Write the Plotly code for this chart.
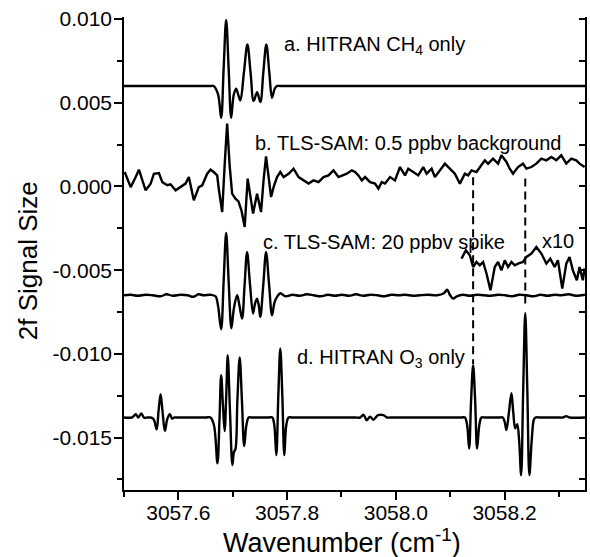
import plotly.graph_objects as go

# --- a. HITRAN CH4 only ---
a_wn = [3057.500, 3057.600, 3057.650, 3057.6600, 3057.6646, 3057.6728, 3057.6787, 3057.6833,
        3057.6879, 3057.6925, 3057.6971, 3057.7017, 3057.7062, 3057.7105, 3057.7141, 3057.7206,
        3057.7270, 3057.7328, 3057.7385, 3057.7448, 3057.7508, 3057.7563, 3057.7618, 3057.7673,
        3057.7723, 3057.7774, 3057.7820, 3057.7870, 3057.7950, 3057.850, 3058.000, 3058.200,
        3058.348]
a_sig = [0.0060, 0.0060, 0.0060, 0.0060, 0.0060, 0.00553, 0.00410, 0.00705,
         0.00995, 0.00705, 0.00410, 0.00544, 0.00584, 0.00544, 0.00514, 0.00681,
         0.00848, 0.00681, 0.00510, 0.00563, 0.00504, 0.00681, 0.00848, 0.00681,
         0.00530, 0.00585, 0.0060, 0.0060, 0.0060, 0.0060, 0.0060, 0.0060,
         0.0060]

# --- b. TLS-SAM: 0.5 ppbv background ---
b_wn = [3057.5013, 3057.5123, 3057.5215, 3057.5275, 3057.5338, 3057.5398, 3057.5490, 3057.5550,
        3057.5642, 3057.5705, 3057.5796, 3057.5857, 3057.5949, 3057.6040, 3057.6132, 3057.6193,
        3057.6284, 3057.6376, 3057.6439, 3057.6530, 3057.6591, 3057.6651, 3057.6714, 3057.6747,
        3057.6806, 3057.6851, 3057.6897, 3057.6943, 3057.6989, 3057.7050, 3057.7105, 3057.7160,
        3057.7220, 3057.7275, 3057.7325, 3057.7374, 3057.7448, 3057.7521, 3057.7567, 3057.7613,
        3057.7659, 3057.7705, 3057.7756, 3057.7815, 3057.7875, 3057.7936, 3057.8028, 3057.8119,
        3057.8211, 3057.8303, 3057.8394, 3057.8486, 3057.8578, 3057.8670, 3057.8761, 3057.8853,
        3057.8945, 3057.9099, 3057.9191, 3057.9251, 3057.9312, 3057.9374, 3057.9435, 3057.9527,
        3057.9618, 3057.9679, 3057.9741, 3057.9802, 3057.9894, 3057.9985, 3058.0077, 3058.0169,
        3058.0229, 3058.0321, 3058.0413, 3058.0505, 3058.0567, 3058.0659, 3058.0719, 3058.0811,
        3058.0903, 3058.0994, 3058.1086, 3058.1178, 3058.1270, 3058.1330, 3058.1393, 3058.1484,
        3058.1545, 3058.1637, 3058.1697, 3058.1789, 3058.1881, 3058.1943, 3058.2035, 3058.2095,
        3058.2156, 3058.2248, 3058.2339, 3058.2402, 3058.2494, 3058.2585, 3058.2677, 3058.2769,
        3058.2861, 3058.2952, 3058.3044, 3058.3136, 3058.3228, 3058.3319, 3058.3380, 3058.3472]
b_sig = [0.00086, -0.00004, 0.00056, 0.00100, 0.00036, -0.00023, 0.00017, 0.00076,
         0.00080, 0.00026, 0.00007, 0.00013, -0.00023, -0.00004, 0.00017, 0.00056,
         -0.00083, -0.00004, 0.00007, 0.00076, 0.00100, 0.00086, 0.00066, -0.00023,
         -0.00153, 0.00126, 0.00375, 0.00126, -0.00043, -0.00073, -0.00089, -0.00143,
         -0.00242, 0.00047, -0.00053, -0.00162, -0.00043, -0.00153, 0.00036, 0.00180,
         0.00060, -0.00063, 0.00000, 0.00056, 0.00086, 0.00056, 0.00076, 0.00106,
         0.00056, 0.00036, 0.00017, 0.00036, 0.00026, 0.00056, 0.00066, 0.00096,
         0.00056, 0.00076, 0.00096, 0.00086, 0.00066, 0.00036, 0.00056, 0.00026,
         0.00017, -0.00013, 0.00026, 0.00017, 0.00056, 0.00036, 0.00116, 0.00066,
         0.00106, 0.00086, 0.00066, 0.00116, 0.00076, 0.00106, 0.00056, 0.00096,
         0.00136, 0.00106, 0.00076, 0.00017, 0.00076, 0.00066, 0.00096, 0.00086,
         0.00116, 0.00156, 0.00136, 0.00166, 0.00136, 0.00186, 0.00146, 0.00106,
         0.00076, 0.00116, 0.00136, 0.00106, 0.00116, 0.00136, 0.00166, 0.00156,
         0.00176, 0.00156, 0.00186, 0.00136, 0.00166, 0.00156, 0.00136, 0.00116]

# --- c. TLS-SAM: 20 ppbv spike ---
c_wn = [3057.5000, 3057.5123, 3057.5251, 3057.5398, 3057.5527, 3057.5673, 3057.5783, 3057.5894,
        3057.6040, 3057.6169, 3057.6279, 3057.6371, 3057.6462, 3057.6591, 3057.6683, 3057.6728,
        3057.6787, 3057.6833, 3057.6879, 3057.6925, 3057.6976, 3057.7022, 3057.7081, 3057.7123,
        3057.7172, 3057.7218, 3057.7264, 3057.7319, 3057.7374, 3057.7411, 3057.7448, 3057.7481,
        3057.7508, 3057.7563, 3057.7613, 3057.7668, 3057.7723, 3057.7769, 3057.7815, 3057.7875,
        3057.7967, 3057.8100, 3057.8230, 3057.8360, 3057.8490, 3057.8620, 3057.8750, 3057.8880,
        3057.9010, 3057.9140, 3057.9270, 3057.9400, 3057.9530, 3057.9660, 3057.9790, 3057.9920,
        3058.0050, 3058.0180, 3058.0310, 3058.0440, 3058.0580, 3058.0760, 3058.0884, 3058.0945,
        3058.0994, 3058.1055, 3058.1123, 3058.1230, 3058.1360, 3058.1490, 3058.1620, 3058.1750,
        3058.1880, 3058.2010, 3058.2140, 3058.2270, 3058.2400, 3058.2530, 3058.2660, 3058.2790,
        3058.2920, 3058.3050, 3058.3180, 3058.3310, 3058.3480]
c_sig = [-0.00650, -0.00647, -0.00653, -0.00647, -0.00650, -0.00656, -0.00644, -0.00653,
         -0.00647, -0.00650, -0.00659, -0.00644, -0.00650, -0.00647, -0.00656, -0.00710,
         -0.00853, -0.00566, -0.00278, -0.00566, -0.00847, -0.00727, -0.00650, -0.00710,
         -0.00789, -0.00590, -0.00392, -0.00590, -0.00759, -0.00698, -0.00670, -0.00716,
         -0.00779, -0.00584, -0.00392, -0.00584, -0.00769, -0.00692, -0.00660, -0.00638,
         -0.00656, -0.00647, -0.00653, -0.00644, -0.00650, -0.00656, -0.00647, -0.00653,
         -0.00647, -0.00653, -0.00644, -0.00653, -0.00647, -0.00650, -0.00656, -0.00647,
         -0.00650, -0.00647, -0.00653, -0.00650, -0.00647, -0.00650, -0.00638, -0.00617,
         -0.00647, -0.00670, -0.00656, -0.00647, -0.00653, -0.00647, -0.00650, -0.00653,
         -0.00647, -0.00650, -0.00656, -0.00647, -0.00650, -0.00656, -0.00647, -0.00653,
         -0.00647, -0.00650, -0.00644, -0.00653, -0.00647]

# --- c. x10 expanded section ---
x10_wn = [3058.1209, 3058.1288, 3058.1361, 3058.1422, 3058.1484, 3058.1545, 3058.1606, 3058.1668,
          3058.1741, 3058.1820, 3058.1881, 3058.1943, 3058.2004, 3058.2064, 3058.2127, 3058.2187,
          3058.2248, 3058.2339, 3058.2402, 3058.2494, 3058.2585, 3058.2677, 3058.2769, 3058.2842,
          3058.2921, 3058.2982, 3058.3062, 3058.3136, 3058.3196, 3058.3257, 3058.3330, 3058.3380,
          3058.3440, 3058.3472]
x10_sig = [-0.00431, -0.00381, -0.00411, -0.00481, -0.00451, -0.00471, -0.00451, -0.00520,
           -0.00620, -0.00481, -0.00451, -0.00501, -0.00441, -0.00481, -0.00451, -0.00471,
           -0.00461, -0.00451, -0.00421, -0.00401, -0.00362, -0.00401, -0.00461, -0.00431,
           -0.00481, -0.00441, -0.00610, -0.00461, -0.00421, -0.00501, -0.00560, -0.00481,
           -0.00560, -0.00489]

# --- d. HITRAN O3 only ---
d_wn = [3057.5000, 3057.5141, 3057.5178, 3057.5215, 3057.5261, 3057.5319, 3057.5371, 3057.5435,
        3057.5490, 3057.5545, 3057.5600, 3057.5637, 3057.5673, 3057.5710, 3057.5752, 3057.5798,
        3057.5844, 3057.5884, 3057.5930, 3057.6000, 3057.6500, 3057.6591, 3057.6655, 3057.6719,
        3057.6756, 3057.6787, 3057.6820, 3057.6851, 3057.6881, 3057.6908, 3057.6949, 3057.6994,
        3057.7022, 3057.7050, 3057.7086, 3057.7128, 3057.7169, 3057.7211, 3057.7251, 3057.7294,
        3057.7350, 3057.7650, 3057.7728, 3057.7765, 3057.7802, 3057.7839, 3057.7875, 3057.7912,
        3057.7949, 3057.7985, 3057.8028, 3057.8100, 3057.9250, 3057.9343, 3057.9404, 3057.9466,
        3057.9527, 3057.9587, 3057.9673, 3057.9771, 3057.9839, 3057.9900, 3058.1200, 3058.1270,
        3058.1312, 3058.1349, 3058.1385, 3058.1422, 3058.1459, 3058.1495, 3058.1536, 3058.1576,
        3058.1650, 3058.1900, 3058.1967, 3058.2004, 3058.2035, 3058.2081, 3058.2127, 3058.2160,
        3058.2196, 3058.2233, 3058.2268, 3058.2305, 3058.2343, 3058.2381, 3058.2419, 3058.2457,
        3058.2500, 3058.2540, 3058.2570, 3058.2650, 3058.3000, 3058.3068, 3058.3136, 3058.3196,
        3058.3480]
d_sig = [-0.01380, -0.01380, -0.01372, -0.01360, -0.01380, -0.01356, -0.01381, -0.01380,
         -0.01380, -0.01390, -0.01451, -0.01336, -0.01241, -0.01348, -0.01460, -0.01387,
         -0.01360, -0.01387, -0.01380, -0.01380, -0.01380, -0.01380, -0.01426, -0.01654,
         -0.01396, -0.01127, -0.01306, -0.01461, -0.01247, -0.01008, -0.01336, -0.01664,
         -0.01587, -0.01569, -0.01276, -0.01022, -0.01276, -0.01551, -0.01426, -0.01380,
         -0.01380, -0.01380, -0.01380, -0.01426, -0.01605, -0.01247, -0.00968, -0.01247,
         -0.01605, -0.01426, -0.01380, -0.01380, -0.01380, -0.01380, -0.01363, -0.01396,
         -0.01375, -0.01393, -0.01366, -0.01366, -0.01380, -0.01380, -0.01380, -0.01380,
         -0.01426, -0.01565, -0.01276, -0.01068, -0.01276, -0.01565, -0.01426, -0.01380,
         -0.01380, -0.01380, -0.01380, -0.01408, -0.01455, -0.01348, -0.01235, -0.01348,
         -0.01445, -0.01420, -0.01515, -0.01724, -0.01217, -0.00757, -0.01217, -0.01724,
         -0.01515, -0.01392, -0.01380, -0.01380, -0.01380, -0.01380, -0.01372, -0.01380,
         -0.01380]

# dashed guide lines linking the O3 lines to the TLS-SAM traces
guide1_wn = [3058.1422, 3058.1422]
guide1_sig = [0.00055, -0.0106]
guide2_wn = [3058.2381, 3058.2381]
guide2_sig = [0.00048, -0.0072]

y_tick_vals = [0.010, 0.005, 0.0, -0.005, -0.010, -0.015]
y_tick_text = ["0.010", "0.005", "0.000", "-0.005", "-0.010", "-0.015"]

x_range = [3057.5, 3058.348]
y_range = [-0.01813, 0.01012]

FONT = "Arial, Liberation Sans, sans-serif"
line_style = dict(color="black", width=2.4)

fig = go.Figure()

fig.add_trace(go.Scatter(x=a_wn, y=a_sig, mode="lines", line=dict(shape="spline", **line_style)))
fig.add_trace(go.Scatter(x=b_wn, y=b_sig, mode="lines", line=line_style))
fig.add_trace(go.Scatter(x=c_wn, y=c_sig, mode="lines", line=dict(shape="spline", **line_style)))
fig.add_trace(go.Scatter(x=d_wn, y=d_sig, mode="lines", line=dict(shape="spline", **line_style)))
# x10 trace sits on the right-hand (mirror) axis, same range
fig.add_trace(go.Scatter(x=x10_wn, y=x10_sig, mode="lines", line=line_style, yaxis="y2"))

guide_style = dict(color="black", width=2, dash="8px,5px")
fig.add_trace(go.Scatter(x=guide1_wn, y=guide1_sig, mode="lines", line=guide_style))
fig.add_trace(go.Scatter(x=guide2_wn, y=guide2_sig, mode="lines", line=guide_style))

# labels
label_font = dict(family=FONT, size=20, color="black")
labels = [
    (3057.7912, 0.00842, "a. HITRAN CH<sub>4</sub> only"),
    (3057.7380, 0.00259, "b. TLS-SAM: 0.5 ppbv background"),
    (3057.7527, -0.00334, "c. TLS-SAM: 20 ppbv spike"),
    (3058.2646, -0.00328, "x10"),
    (3057.8150, -0.01026, "d. HITRAN O<sub>3</sub> only"),
]
for lx, ly, txt in labels:
    fig.add_annotation(x=lx, y=ly, text=txt, showarrow=False, xanchor="left",
                       yanchor="middle", font=label_font)

# axis titles
fig.add_annotation(x=-0.208, y=0.484, xref="paper", yref="paper", text="2f Signal Size",
                   textangle=-90, showarrow=False, xanchor="center", yanchor="middle",
                   font=dict(family=FONT, size=26, color="black"))
fig.add_annotation(x=0.472, y=-0.108, xref="paper", yref="paper",
                   text="Wavenumber (cm<sup>-1</sup>)", showarrow=False,
                   xanchor="center", yanchor="middle",
                   font=dict(family=FONT, size=27, color="black"))

axis_common = dict(showgrid=False, zeroline=False, showline=True, linecolor="black",
                   linewidth=1.5, tickcolor="black", tickwidth=1.5)

fig.update_layout(
    width=590,
    height=557,
    margin=dict(l=124, r=5, t=17, b=67),
    plot_bgcolor="white",
    paper_bgcolor="white",
    showlegend=False,
    font=dict(family=FONT, color="black"),
    xaxis=dict(
        range=x_range,
        ticks="outside", ticklen=8,
        tick0=3057.6, dtick=0.2, tickformat=".1f",
        ticklabelstandoff=-5,
        tickfont=dict(family=FONT, size=21, color="black"),
        minor=dict(tick0=3057.5, dtick=0.1, ticks="outside", ticklen=5,
                   tickcolor="black", tickwidth=1.5),
        **axis_common,
    ),
    yaxis=dict(
        range=y_range,
        ticks="outside", ticklen=8,
        tickmode="array", tickvals=y_tick_vals, ticktext=y_tick_text,
        ticklabelstandoff=-2,
        tickfont=dict(family=FONT, size=21, color="black"),
        minor=dict(tickmode="linear", tick0=0.0025, dtick=0.005, ticks="outside", ticklen=5,
                   tickcolor="black", tickwidth=1.5),
        **axis_common,
    ),
    yaxis2=dict(
        range=y_range,
        overlaying="y", side="right", anchor="x",
        ticks="inside", ticklen=6, tick0=0, dtick=0.005,
        showticklabels=False,
        minor=dict(tick0=0.0025, dtick=0.005, ticks="inside", ticklen=6,
                   tickcolor="black", tickwidth=1.5),
        **axis_common,
    ),
)

# remove the browser's default page margin so the figure sits at the top-left corner
fig.write_html("out.html", config={"displayModeBar": False},
               post_script="document.body.style.margin='0';")
